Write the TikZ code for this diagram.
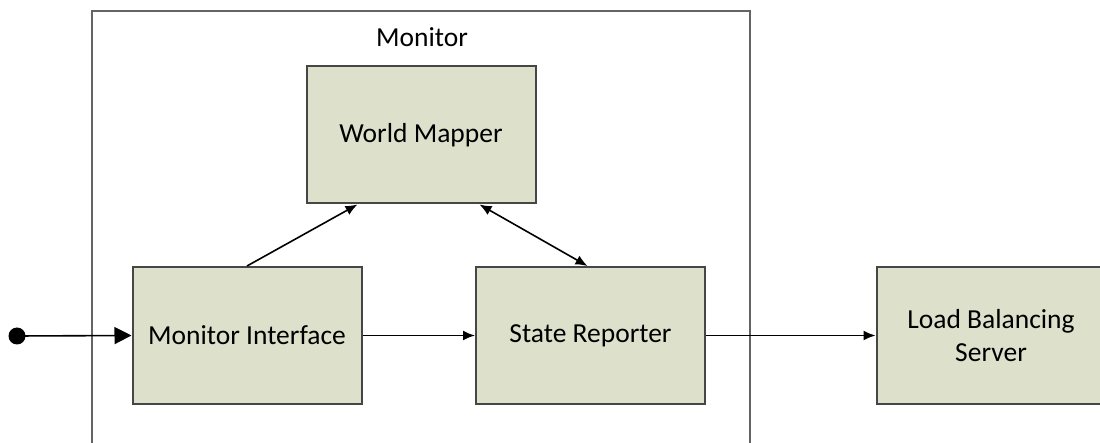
\documentclass[tikz,border=0pt]{standalone}
\usepackage{fontspec}
\setmainfont{Carlito}
\usetikzlibrary{arrows.meta,calc}
\definecolor{boxfill}{RGB}{221,224,203}
\definecolor{boxline}{RGB}{70,70,70}
\definecolor{frameline}{RGB}{100,100,100}
\tikzset{
  block/.style={draw=boxline, line width=2pt, fill=boxfill, rectangle,
    minimum width=229pt, minimum height=137pt, inner sep=0pt,
    align=center, font=\fontsize{27.5}{33}\selectfont},
  flow/.style={line width=1.6pt, draw=black, -{Latex[length=12pt,width=10pt]}},
  bothflow/.style={line width=1.6pt, draw=black, {Latex[length=12pt,width=10pt]}-{Latex[length=12pt,width=10pt]}},
  entry/.style={line width=1.6pt, draw=black, -{Triangle[length=17pt,width=17pt]}},
}
\begin{document}
\begin{tikzpicture}[x=1pt,y=-1pt]
  \useasboundingbox (0,0) rectangle (1100,443);
  \clip (0,0) rectangle (1100,443);

  % enclosing Monitor frame (open at the bottom of the view)
  \node[draw=frameline, line width=2pt, rectangle, minimum width=658pt,
        minimum height=480pt, inner sep=0pt] (monitor) at (421,251) {};
  \node[font=\fontsize{27.5}{33}\selectfont] (monitorlabel) at (422,37) {Monitor};

  % components
  \node[block] (wm) at (421,135) {World Mapper};
  \node[block] (mi) at (247,335.5) {Monitor Interface};
  \node[block] (sr) at (590.5,335.5) {State Reporter};
  \node[block] (lbs) at (991,335.5) {Load Balancing\\Server};

  % initial state
  \fill[black] (17,336) circle (8.5pt);
  \coordinate (start) at (17,336);

  % connectors
  \draw[entry] (start) -- (mi.west);
  \draw[flow] (mi.north) -- ($(wm.south west)+(52,0)$);
  \draw[bothflow] ($(wm.south west)+(174,0)$) -- ($(sr.north)+(-3,0)$);
  \draw[flow] (mi.east) -- (sr.west);
  \draw[flow] (sr.east) -- (lbs.west);
\end{tikzpicture}
\end{document}
